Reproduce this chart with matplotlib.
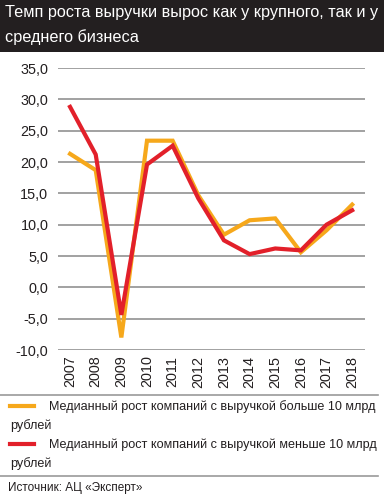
import matplotlib.pyplot as plt
import matplotlib.lines as mlines
from matplotlib.patches import Rectangle

years = ['2007', '2008', '2009', '2010', '2011', '2012',
         '2013', '2014', '2015', '2016', '2017', '2018']
big = [21.3, 18.7, -8.0, 23.4, 23.4, 14.7, 8.4, 10.7, 11.0, 5.6, 9.1, 13.2]
small = [28.8, 21.2, -4.4, 19.6, 22.6, 14.2, 7.5, 5.3, 6.2, 5.9, 10.0, 12.3]
yticks = [-10, -5, 0, 5, 10, 15, 20, 25, 30, 35]

title_lines = ['Темп роста выручки вырос как у крупного, так и у', 'среднего бизнеса']
label_big = 'Медианный рост компаний с выручкой больше 10 млрд'
label_small = 'Медианный рост компаний с выручкой меньше 10 млрд'
source = 'Источник: АЦ «Эксперт»'

orange = '#f6a81b'
red = '#e2202a'
text_col = '#231f20'
plt.rcParams['font.family'] = ['Liberation Sans', 'DejaVu Sans']

fig = plt.figure(figsize=(3.84, 5), dpi=100)
fig.patch.set_facecolor('white')

# dark title band
fig.patches.append(Rectangle((0, 1 - 52 / 500), 1, 52 / 500, transform=fig.transFigure,
                             facecolor='#231f20', edgecolor='none'))
for yy, line in zip((12, 37), title_lines):
    fig.text(5 / 384, 1 - yy / 500, line, color='white', fontsize=11.7, va='center', ha='left')

ax = fig.add_axes([58 / 384, 150 / 500, 307 / 384, 282 / 500])
x = list(range(len(years)))
ax.plot(x, big, color=orange, lw=3, solid_joinstyle='miter', zorder=3)
ax.plot(x, small, color=red, lw=3, solid_joinstyle='miter', zorder=4)

ax.set_ylim(-10, 35)
ax.set_xlim(-0.47, 11.5)
ax.set_yticks(yticks)
ax.set_yticklabels([f'{v:.1f}'.replace('.', ',') for v in yticks], fontsize=10.4, color=text_col)
ax.set_xticks(x)
ax.set_xticklabels(years, rotation=90, fontsize=10.4, color=text_col)
ax.tick_params(length=0)
ax.tick_params(axis='y', pad=7)
ax.tick_params(axis='x', pad=4)
ax.yaxis.grid(True, color='#9a9a9a', lw=1.3)
ax.set_axisbelow(True)
for s in ax.spines.values():
    s.set_visible(False)

# separators
for yy in (395, 476):
    fig.add_artist(mlines.Line2D([0, 378 / 384], [1 - yy / 500] * 2, color='#9a9a9a', lw=1.2))

# legend
for yy, col, lab in ((406, orange, label_big), (444, red, label_small)):
    fig.add_artist(mlines.Line2D([10 / 384, 34 / 384], [1 - yy / 500] * 2, color=col, lw=3))
    fig.text(49 / 384, 1 - (yy + 1) / 500, lab, fontsize=9.1, va='center', color=text_col)
    fig.text(10 / 384, 1 - (yy + 20) / 500, 'рублей', fontsize=9.1, va='center', color=text_col)

fig.text(8 / 384, 1 - 488 / 500, source, fontsize=8.5, va='center', color=text_col)

fig.savefig('out.png', dpi=100)
